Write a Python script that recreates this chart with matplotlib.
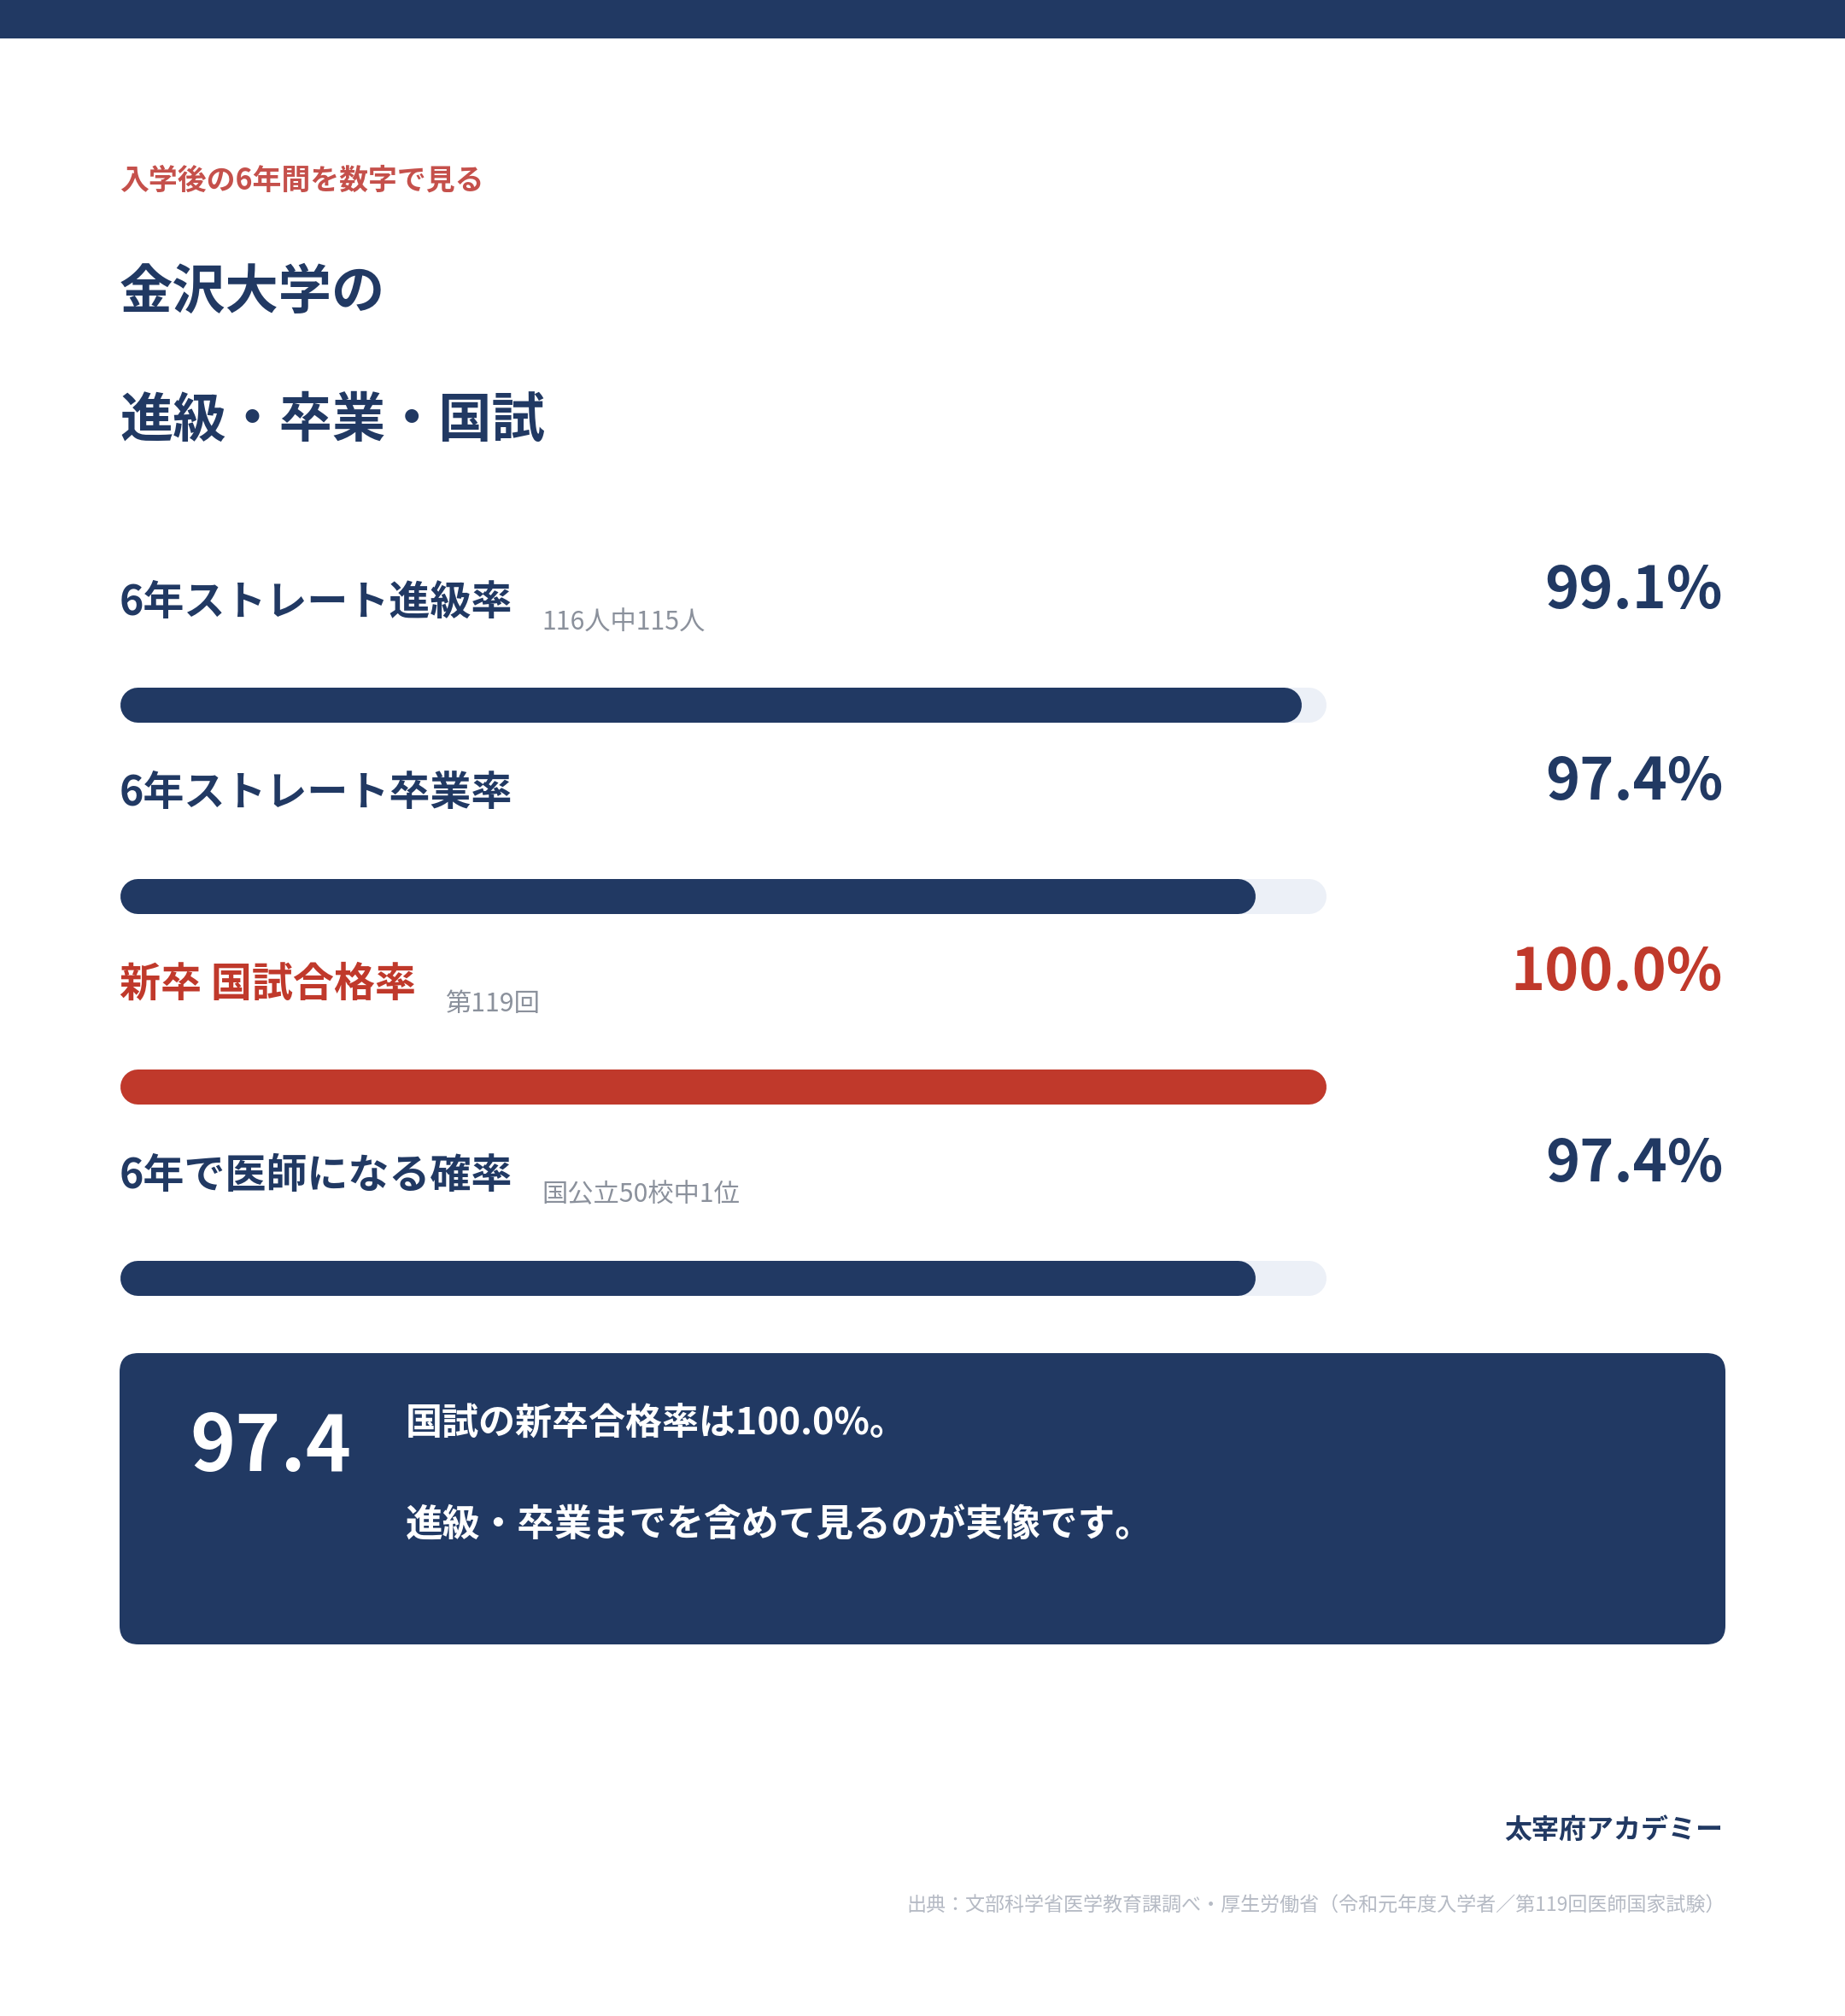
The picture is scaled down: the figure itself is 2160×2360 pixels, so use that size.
import matplotlib
matplotlib.use('Agg')
import matplotlib.pyplot as plt
from matplotlib.patches import FancyBboxPatch, Rectangle

plt.rcParams['font.family'] = ['Noto Sans CJK JP', 'DejaVu Sans']

# data
labels = ['6年ストレート進級率', '6年ストレート卒業率', '新卒 国試合格率', '6年で医師になる確率']
notes = ['116人中115人', '', '第119回', '国公立50校中1位']
rates = [99.1, 97.4, 100.0, 97.4]
highlight = [False, False, True, False]

kicker = '入学後の6年間を数字で見る'
title_lines = ['金沢大学の', '進級・卒業・国試']
summary_lines = ['国試の新卒合格率は100.0%。', '進級・卒業までを含めて見るのが実像です。']
brand = '太宰府アカデミー'
source = '出典：文部科学省医学教育課調べ・厚生労働省（令和元年度入学者／第119回医師国家試験）'

NAVY = '#213963'
RED = '#C0392B'
KICKER_RED = '#C5504B'
TRACK = '#ECF0F7'
GREY = '#8B919C'
LIGHT = '#B5BAC4'

W, H = 2160, 2360
fig = plt.figure(figsize=(W / 100, H / 100), dpi=100)
fig.patch.set_facecolor('white')

# page axes in pixel units (y down)
page = fig.add_axes([0, 0, 1, 1])
page.set_xlim(0, W)
page.set_ylim(H, 0)
page.axis('off')

page.add_patch(Rectangle((0, 0), W, 45, color=NAVY, lw=0))

page.text(140, 211, kicker, color=KICKER_RED, fontsize=24.4, fontweight='bold', va='center')
page.text(140, 342, title_lines[0], color=NAVY, fontsize=44.8, fontweight='bold', va='center')
page.text(140, 492, title_lines[1], color=NAVY, fontsize=44.8, fontweight='bold', va='center')

# bars
row0, step = 825, 223.7
bar_lo = 57.5
bx0, bx1 = 160.5, 1532.5
top, bot = row0 - step / 2, row0 + 3 * step + step / 2
ax = fig.add_axes([bx0 / W, (H - bot) / H, (bx1 - bx0) / W, (bot - top) / H])
ax.set_xlim(bar_lo, 100)
ax.set_ylim(len(rates) - 0.5, -0.5)
ax.axis('off')
ax.patch.set_alpha(0)

lw = 41 * 0.72
for i, v in enumerate(rates):
    c = RED if highlight[i] else NAVY
    ax.plot([bar_lo, 100], [i, i], color=TRACK, lw=lw, solid_capstyle='round', clip_on=False)
    ax.plot([bar_lo, v], [i, i], color=c, lw=lw, solid_capstyle='round', clip_on=False)

    y = row0 + i * step
    lab = page.text(140, y - 120, labels[i], color=c, fontsize=34.6, fontweight='bold', va='center')
    if notes[i]:
        page.annotate(notes[i], xy=(1, 0), xycoords=lab, xytext=(24.5, -10),
                      textcoords='offset points', color=GREY, fontsize=21.8,
                      ha='left', va='bottom')
    page.text(2017, y - 113, f'{v:.1f}%', color=c, fontsize=49, fontweight='bold',
              ha='right', va='baseline')

# summary box
page.add_patch(FancyBboxPatch((140, 1584), 1880, 341, boxstyle='round,pad=0,rounding_size=22',
                              fc=NAVY, ec='none'))
page.text(222, 1722, f'{rates[3]:.1f}', color='white', fontsize=65,
          fontweight='bold', ha='left', va='baseline')
page.text(475, 1667, summary_lines[0], color='white', fontsize=31, fontweight='bold', va='center')
page.text(475, 1785, summary_lines[1], color='white', fontsize=31.5, fontweight='bold', va='center')

page.text(2017, 2143, brand, color=NAVY, fontsize=23, fontweight='bold', ha='right', va='center')
page.text(2020, 2231, source, color=LIGHT, fontsize=16.6, ha='right', va='center')

fig.savefig('out.png', dpi=100, facecolor='white')
